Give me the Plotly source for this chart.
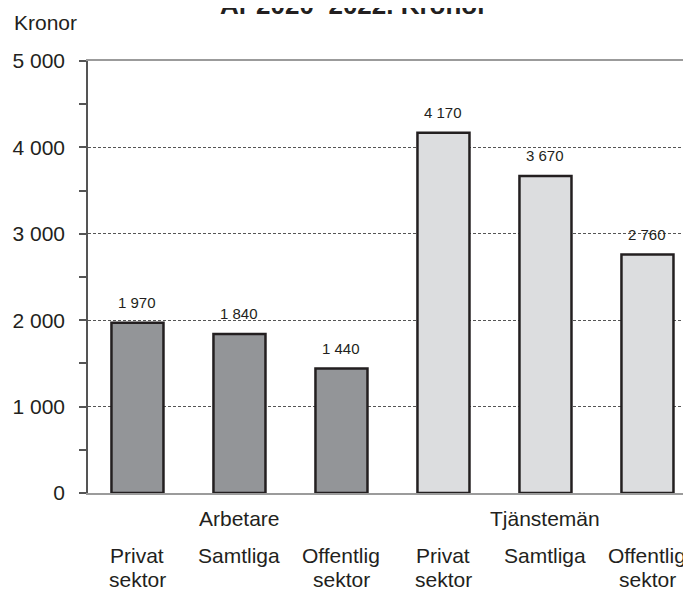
import plotly.graph_objects as go

groups = ["Arbetare", "Tjänstemän"]
sub_line1 = ["Privat", "Samtliga", "Offentlig", "Privat", "Samtliga", "Offentlig"]
sub_line2 = ["sektor", "", "sektor", "sektor", "", "sektor"]
values = [1970, 1840, 1440, 4170, 3670, 2760]
value_text = ["1 970", "1 840", "1 440", "4 170", "3 670", "2 760"]
bar_colors = ["#939598", "#939598", "#939598", "#DCDDDF", "#DCDDDF", "#DCDDDF"]
y_ticks = [0, 1000, 2000, 3000, 4000, 5000]
y_tick_text = ["0", "1 000", "2 000", "3 000", "4 000", "5 000"]

xs = list(range(len(values)))
FONT = "Liberation Sans, Arial, sans-serif"
TXT = "#231F20"

W, H = 691, 590
ML, MR, MT, MB = 80, 0, 53, 105
plot_w = W - ML - MR
plot_h = H - MT - MB

fig = go.Figure()
fig.add_trace(go.Bar(
    x=xs, y=values, width=0.51,
    marker=dict(color=bar_colors, line=dict(color="#231F20", width=2.5)),
    hoverinfo="skip",
))

ann = []
for x, v, t in zip(xs, values, value_text):
    ann.append(dict(x=x, y=v, xref="x", yref="y", text=t, showarrow=False,
                    yanchor="bottom", yshift=10, font=dict(size=15, color=TXT)))
for i, g in enumerate(groups):
    ann.append(dict(x=i * 3 + 1, y=0, xref="x", yref="y", text=g, showarrow=False,
                    yanchor="middle", yshift=-25, font=dict(size=21, color=TXT)))
for x, s1, s2 in zip(xs, sub_line1, sub_line2):
    ann.append(dict(x=x, y=0, xref="x", yref="y", text=s1, showarrow=False,
                    yanchor="middle", yshift=-62, font=dict(size=21, color=TXT)))
    if s2:
        ann.append(dict(x=x, y=0, xref="x", yref="y", text=s2, showarrow=False,
                        yanchor="middle", yshift=-86, font=dict(size=21, color=TXT)))
ann.append(dict(x=(4 - ML) / plot_w, y=1 + (MT - 14.5) / plot_h, xref="paper", yref="paper",
                text="Kronor", showarrow=False, xanchor="left", yanchor="middle",
                font=dict(size=21, color=TXT)))
ann.append(dict(x=(345 - ML) / plot_w, y=1 + (MT + 3) / plot_h, xref="paper", yref="paper",
                text="<b>År 2020–2022. Kronor</b>", showarrow=False,
                xanchor="center", yanchor="middle", font=dict(size=26, color=TXT)))

fig.update_layout(
    width=W, height=H,
    margin=dict(l=ML, r=MR, t=MT, b=MB),
    plot_bgcolor="white", paper_bgcolor="white",
    font=dict(family=FONT, color=TXT),
    showlegend=False,
    annotations=ann,
)

fig.update_xaxes(range=[-0.485, -0.485 + plot_w / 102], showticklabels=False, ticks="",
                 showgrid=False, zeroline=False,
                 showline=True, mirror=True, linecolor="#9B9B9B", linewidth=2)
fig.update_yaxes(range=[0, 5000], tickvals=y_ticks, ticktext=y_tick_text,
                 ticks="outside", ticklen=7, tickcolor="#555555", tickwidth=1.5,
                 minor=dict(dtick=500, ticks="outside", ticklen=7, tickcolor="#555555",
                            tickwidth=1.5, showgrid=False),
                 showline=True, linecolor="#555555", linewidth=1.5,
                 showgrid=True, gridcolor="#555555", gridwidth=1, griddash="3px,2px",
                 zeroline=False, tickfont=dict(size=21, color=TXT), ticklabelstandoff=10)

fig.write_html("out.html")
